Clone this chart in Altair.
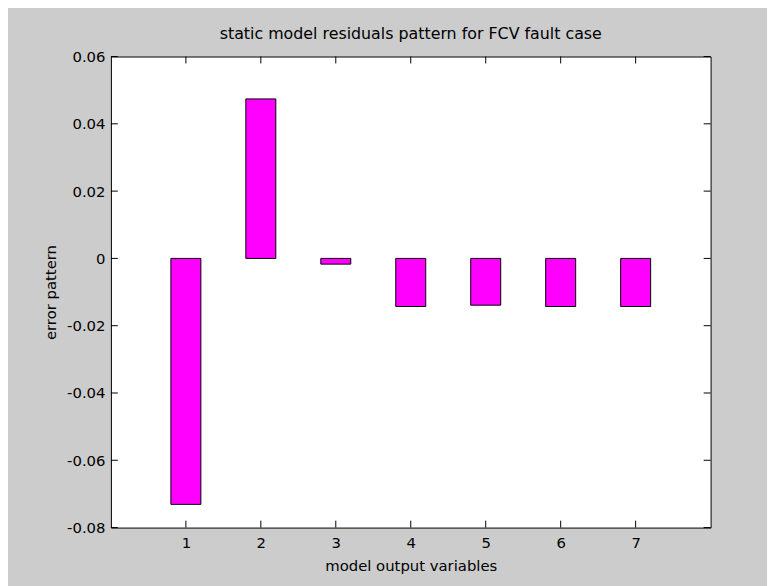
import altair as alt
import pandas as pd

# Data
variables = [1, 2, 3, 4, 5, 6, 7]
errors = [-0.0731, 0.0474, -0.0017, -0.0143, -0.0139, -0.0143, -0.0143]
x_ticks = [1, 2, 3, 4, 5, 6, 7]
y_ticks = [-0.08, -0.06, -0.04, -0.02, 0.0, 0.02, 0.04, 0.06]
title_text = "static model residuals pattern for FCV fault case"
x_title = "model output variables"
y_title = "error pattern"

W, H = 606, 476
FONT = "DejaVu Sans"
TL = 7  # inward tick length (px)

bars_df = pd.DataFrame({"var": variables, "err": errors})
xt_df = pd.DataFrame({"v": x_ticks})
yt_df = pd.DataFrame({"v": y_ticks})

xscale = alt.Scale(domain=[0, 8], nice=False, zero=False)
yscale = alt.Scale(domain=[-0.08, 0.06], nice=False, zero=False)

label_expr = "datum.value < 0 ? '-' + format(-datum.value, '~g') : format(datum.value, '~g')"

x_axis = alt.Axis(
    values=x_ticks,
    title=x_title,
    labelPadding=8,
    titleY=43,
    titleBaseline="alphabetic",
)
y_axis = alt.Axis(
    values=y_ticks,
    title=y_title,
    labelExpr=label_expr,
    labelPadding=6,
    titleX=-61,
    titleY=H / 2,
    titleAngle=-90,
    titleAlign="center",
    titleBaseline="middle",
)

bars = (
    alt.Chart(bars_df)
    .transform_calculate(x0="datum.var - 0.2", x1="datum.var + 0.2", base="0")
    .mark_bar(color="#ff00ff", stroke="black", strokeWidth=1)
    .encode(
        x=alt.X("x0:Q", scale=xscale, axis=x_axis),
        x2="x1:Q",
        y=alt.Y("err:Q", scale=yscale, axis=y_axis),
        y2="base:Q",
    )
)

ytick_left = alt.Chart(yt_df).mark_rule(color="black").encode(
    y=alt.Y("v:Q", scale=yscale, axis=y_axis), x=alt.value(0), x2=alt.value(TL)
)
ytick_right = alt.Chart(yt_df).mark_rule(color="black").encode(
    y=alt.Y("v:Q", scale=yscale, axis=y_axis), x=alt.value(W - TL), x2=alt.value(W)
)
xtick_bottom = alt.Chart(xt_df).mark_rule(color="black").encode(
    x=alt.X("v:Q", scale=xscale, axis=x_axis), y=alt.value(H - TL), y2=alt.value(H)
)
xtick_top = alt.Chart(xt_df).mark_rule(color="black").encode(
    x=alt.X("v:Q", scale=xscale, axis=x_axis), y=alt.value(0), y2=alt.value(TL)
)

chart = (
    alt.layer(bars, ytick_left, ytick_right, xtick_bottom, xtick_top)
    .properties(
        width=W,
        height=H,
        title=alt.TitleParams(
            text=title_text,
            font=FONT,
            fontSize=16,
            fontWeight="normal",
            color="black",
            anchor="middle",
            baseline="alphabetic",
            offset=15,
            dy=20,
        ),
        autosize=alt.AutoSizeParams(type="none"),
        padding={"left": 104, "top": 46, "right": 57, "bottom": 56},
        background="#cccccc",
    )
    .configure_view(fill="white", stroke="black", strokeWidth=1)
    .configure_axis(
        ticks=False,
        domain=False,
        grid=False,
        labelFont=FONT,
        labelFontSize=15,
        labelColor="black",
        titleFont=FONT,
        titleFontSize=15,
        titleFontWeight="normal",
        titleColor="black",
    )
)

chart.save("out.html", embed_options={"renderer": "svg", "actions": False})
